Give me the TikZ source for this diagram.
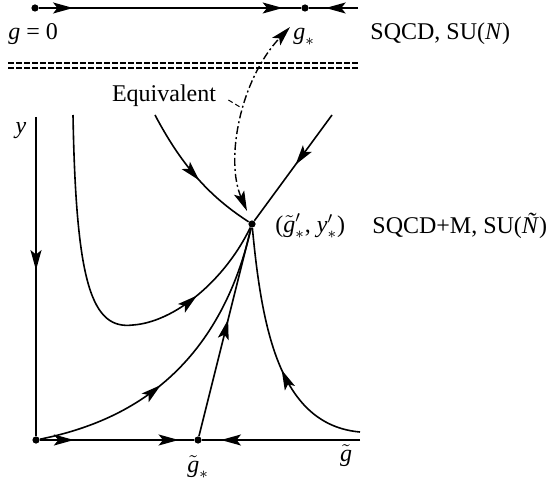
\documentclass[tikz,border=0pt]{standalone}
\usepackage{fontspec}
\setmainfont{Liberation Serif}
\usetikzlibrary{arrows.meta, calc, positioning, decorations.markings}

\newcommand{\gtl}{\tilde{\textit{g}}}

\begin{document}
\begin{tikzpicture}[x=0.5pt, y=-0.5pt, >={Stealth[length=10pt, width=5.5pt, inset=2.2pt]},
    flow/.style={line width=0.8pt},
    arr/.style={postaction={decorate, decoration={markings, mark=at position #1 with {\arrow{>}}}}},
    fixpt/.style={circle, fill, inner sep=0pt, minimum size=3.6pt},
    lbl/.style={font=\fontsize{12}{14}\selectfont, inner sep=1pt}]
    \useasboundingbox (0,0) rectangle (550,480);

    % Theory A: one coupling
    \node [fixpt] (g0) at (35,8) {};
    \node [fixpt] (gst) at (305,8) {};
    \coordinate (topend) at (358,8);
    \draw [flow, arr=0.13, arr=0.93] (g0) -- (gst);
    \draw [flow, arr=0.66] (topend) -- (gst);

    \node [lbl, anchor=west] (lblg0) at (6,34) {\textit{g} = 0};
    \node [lbl, anchor=west] (lblgst) at (291,37) {$\textit{g}_{\ast}$};
    \node [lbl, anchor=west] (sqcd) at (368,34) {SQCD, SU(\textit{N})};

    % Separator
    \draw [line width=0.6pt, dash pattern=on 3pt off 1pt] (8,63) -- (358,63);
    \draw [line width=0.6pt, dash pattern=on 3pt off 1pt] (8,68) -- (358,68);

    % Theory B: plane of couplings
    \node [fixpt] (orig) at (36,440) {};
    \node [fixpt] (gs) at (198,440) {};
    \node [fixpt] (fp) at (252,224) {};
    \coordinate (ytop) at (36,117);
    \coordinate (botend) at (360,440);

    \draw [flow, arr=0.48] (ytop) -- (orig);
    \draw [flow, arr=0.22, arr=0.9] (orig) -- (gs);
    \draw [flow, arr=0.88] (botend) -- (gs);

    \node [lbl] (lbly) at (21,131) {\textit{y}};
    \node [lbl] (lblgt) at (346,456) {$\gtl$};
    \node [lbl] (lblgs) at (198,467) {$\gtl_{\ast}$};

    % Flows into the fixed point
    \coordinate (atop) at (73,115);
    \coordinate (btop) at (155,115);
    \coordinate (ctop) at (332,115);
    \coordinate (rbot) at (360,432);

    \draw [flow, arr=0.78] (atop) .. controls (76,285) and (92,330) .. (133,325)
        .. controls (175,322) and (225,280) .. (fp);
    \draw [flow, arr=0.55] (btop) .. controls (185,172) and (215,200) .. (fp);
    \draw [flow, arr=0.47] (ctop) -- (fp);
    \draw [flow, arr=0.42] (orig) .. controls (110,425) and (215,385) .. (fp);
    \draw [flow, arr=0.56] (gs) -- (fp);
    \draw [flow, arr=0.42] (rbot) .. controls (280,425) and (262,330) .. (fp);

    \node [lbl, anchor=west] (lblfp) at (273,226) {($\gtl'_{\ast}$, \textit{y}$'_{\ast}$)};
    \node [lbl, anchor=west] (sqcdm) at (370,226) {SQCD+M, SU(\textit{Ñ})};

    % Duality
    \coordinate (eqbot) at (247,211);
    \coordinate (eqtop) at (290,27);
    \draw [<->, line width=0.7pt, dash pattern=on 4pt off 1.5pt on 1pt off 1.5pt]
        (eqbot) .. controls (225,160) and (240,80) .. (eqtop);
    \node [lbl] (eqv) at (164,96) {Equivalent};
    \coordinate (eqtick) at (240,107);
    \draw [line width=0.5pt, dash pattern=on 2.5pt off 1.5pt] ($(eqv.east)+(10,4)$) -- (eqtick);

\end{tikzpicture}
\end{document}
